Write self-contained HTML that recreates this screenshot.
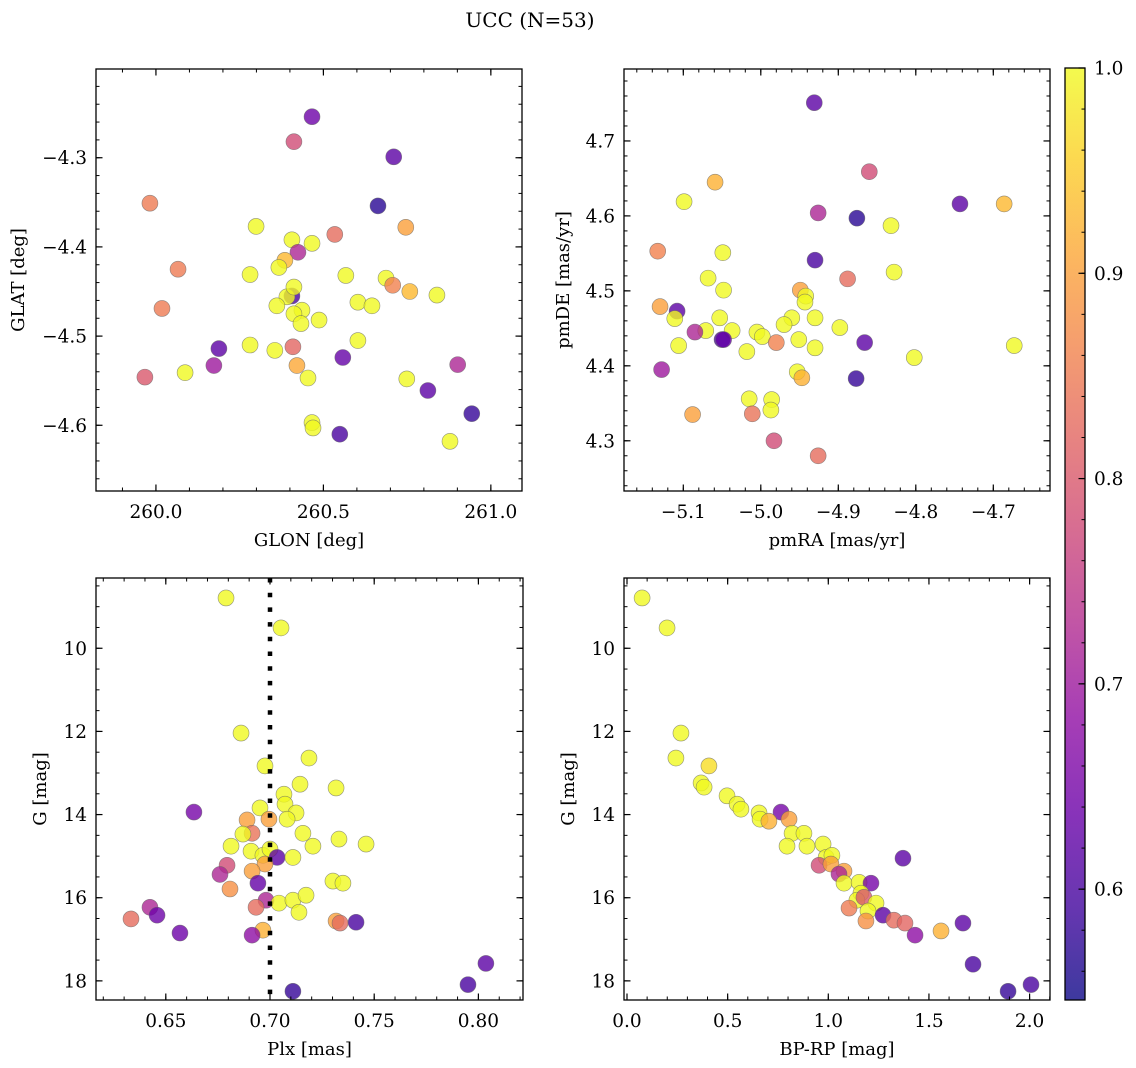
<!DOCTYPE html>
<html><head><meta charset="utf-8">
<style>
html,body{margin:0;padding:0;background:#fff;}
svg{display:block;font-family:"DejaVu Serif","Liberation Serif",serif;}
</style></head>
<body>
<svg id="fig" width="1136" height="1068" viewBox="0 0 1136 1068">
<text x="530" y="27" font-size="20" text-anchor="middle">UCC (N=53)</text>
</svg>
<script>
// ---- Panel 1: GLON / GLAT ----
const glon = [260.466,260.412,260.710,259.982,260.663,260.299,260.746,260.534,260.406,260.466,260.424,260.385,260.066,260.281,260.367,260.567,260.687,260.707,260.406,260.391,260.412,260.758,260.839,260.361,260.018,260.436,260.412,260.603,260.645,260.487,260.433,260.281,260.355,260.603,260.188,260.409,260.558,260.173,260.087,260.421,259.967,260.454,260.749,260.901,260.812,260.943,260.466,260.469,260.549,260.878];
const glat = [-4.254,-4.282,-4.299,-4.351,-4.354,-4.377,-4.378,-4.386,-4.392,-4.396,-4.406,-4.415,-4.425,-4.431,-4.423,-4.432,-4.435,-4.443,-4.455,-4.456,-4.445,-4.450,-4.454,-4.466,-4.469,-4.471,-4.475,-4.462,-4.466,-4.482,-4.486,-4.510,-4.516,-4.505,-4.514,-4.512,-4.524,-4.533,-4.541,-4.533,-4.546,-4.547,-4.548,-4.532,-4.561,-4.587,-4.597,-4.603,-4.610,-4.618];
const prob1 = [0.64,0.78,0.62,0.85,0.57,1,0.9,0.83,1,1,0.72,0.93,0.85,1,1,1,1,0.86,0.6,1,1,0.93,1,1,0.85,1,1,1,1,1,1,1,1,1,0.62,0.82,0.63,0.7,1,0.91,0.8,1,1,0.72,0.62,0.58,1,1,0.6,1];
// ---- Panel 2: pmRA / pmDE ----
const pmra = [-4.931,-4.860,-5.059,-5.099,-4.686,-4.743,-4.876,-4.926,-4.832,-5.133,-5.049,-4.930,-4.828,-5.068,-4.888,-4.949,-5.048,-4.942,-4.943,-5.130,-5.108,-5.111,-5.053,-4.960,-4.930,-5.071,-5.037,-5.005,-4.970,-4.898,-5.050,-5.048,-5.085,-4.998,-4.951,-4.980,-5.018,-4.866,-4.930,-5.106,-4.802,-4.673,-5.128,-4.953,-4.947,-4.877,-5.015,-4.986,-4.987,-5.011,-5.088,-4.983,-4.926];
const pmde = [4.751,4.659,4.645,4.619,4.616,4.616,4.597,4.604,4.587,4.553,4.551,4.541,4.525,4.517,4.516,4.501,4.501,4.493,4.485,4.479,4.473,4.463,4.464,4.464,4.464,4.447,4.447,4.445,4.455,4.451,4.435,4.435,4.445,4.439,4.435,4.431,4.419,4.431,4.424,4.427,4.411,4.427,4.395,4.392,4.384,4.383,4.356,4.355,4.341,4.336,4.335,4.300,4.280];
const prob2 = [0.62,0.78,0.92,1,0.93,0.62,0.57,0.72,1,0.86,1,0.6,1,1,0.83,0.9,1,1,1,0.9,0.62,1,1,1,1,1,1,1,1,1,0.6,0.63,0.72,1,1,0.86,1,0.62,1,1,1,1,0.7,1,0.92,0.58,1,1,1,0.84,0.9,0.78,0.83];
// ---- Panel 3: Plx / G ----
const plx = [0.6789,0.7053,0.6861,0.7187,0.6976,0.7144,0.7317,0.7067,0.7072,0.6635,0.6952,0.7125,0.7082,0.6890,0.6995,0.6914,0.6870,0.7158,0.7331,0.7206,0.7461,0.6813,0.6909,0.6966,0.7000,0.7034,0.7110,0.6794,0.6760,0.6976,0.6914,0.6942,0.6808,0.7302,0.7350,0.6981,0.6933,0.7043,0.7110,0.7173,0.7139,0.7317,0.7336,0.7413,0.6568,0.6966,0.6914,0.6333,0.6424,0.6458,0.7110,0.7950,0.8036];
const gmag3 = [8.79,9.51,12.04,12.64,12.83,13.27,13.36,13.51,13.75,13.94,13.84,13.96,14.11,14.13,14.11,14.45,14.47,14.45,14.59,14.76,14.71,14.76,14.88,14.98,14.83,15.03,15.03,15.22,15.44,15.19,15.36,15.65,15.79,15.60,15.65,16.06,16.23,16.13,16.06,15.94,16.35,16.56,16.61,16.59,16.85,16.78,16.90,16.51,16.23,16.42,18.25,18.09,17.58];
const prob3 = [1,1,1,1,1,1,1,1,1,0.65,1,1,1,0.9,0.9,0.84,1,1,1,1,1,1,1,1,1,0.62,1,0.78,0.72,0.9,0.9,0.63,0.88,1,1,0.72,0.83,1,1,1,1,0.9,0.83,0.6,0.64,0.92,0.68,0.83,0.72,0.64,0.58,0.6,0.62];
const plxRef = [0.70];
// ---- Panel 4: BP-RP / G ----
const bprp = [0.075,0.199,0.268,0.243,0.407,0.368,0.383,0.497,0.547,0.566,0.765,0.656,0.661,0.705,0.805,0.820,0.879,0.894,0.795,0.974,0.989,1.018,0.954,1.013,1.078,1.053,1.078,1.153,1.212,1.371,1.162,1.142,1.177,1.237,1.103,1.197,1.187,1.272,1.326,1.381,1.431,1.560,1.669,1.719,1.893,2.007];
const gmag4 = [8.79,9.51,12.04,12.64,12.83,13.24,13.34,13.55,13.75,13.87,13.94,13.96,14.11,14.16,14.11,14.45,14.45,14.76,14.76,14.71,15.03,14.98,15.22,15.19,15.36,15.43,15.65,15.63,15.65,15.05,15.89,16.06,15.99,16.13,16.25,16.32,16.56,16.42,16.54,16.61,16.90,16.80,16.61,17.60,18.25,18.09];
const prob4 = [1,1,1,1,0.97,1,1,1,1,1,0.65,1,1,0.92,0.9,1,1,1,1,1,1,1,0.78,0.9,0.9,0.72,1,1,0.65,0.62,1,1,0.8,1,0.85,1,0.88,0.62,0.83,0.82,0.68,0.92,0.62,0.6,0.58,0.6];
// ---- tick labels ----
const ticks1x = [260.0,260.5,261.0], ticks1y = [-4.3,-4.4,-4.5,-4.6];
const ticks2x = [-5.1,-5.0,-4.9,-4.8,-4.7], ticks2y = [4.3,4.4,4.5,4.6,4.7];
const ticks3x = [0.65,0.70,0.75,0.80], ticksG = [10,12,14,16,18];
const ticks4x = [0.0,0.5,1.0,1.5,2.0];
const cbarTicks = [0.6,0.7,0.8,0.9,1.0];
const cmin = 0.546, cmax = 1.0;

const NS = "http://www.w3.org/2000/svg";
const svg = document.getElementById('fig');
function mk(tag, attrs, parent){const e=document.createElementNS(NS,tag);for(const k in attrs)e.setAttribute(k,attrs[k]);(parent||svg).appendChild(e);return e;}
const plasma = ["#0d0887","#41049d","#6a00a8","#8f0da4","#b12a90","#cc4778","#e16462","#f2844b","#fca636","#fcce25","#f0f921"];
function hex(h){return [parseInt(h.slice(1,3),16),parseInt(h.slice(3,5),16),parseInt(h.slice(5,7),16)];}
function cmap(v){let t=(v-cmin)/(cmax-cmin);t=Math.max(0,Math.min(1,t));const f=t*10,i=Math.min(9,Math.floor(f)),r=f-i;const a=hex(plasma[i]),b=hex(plasma[i+1]);return 'rgb('+a.map((c,k)=>Math.round(c+(b[k]-c)*r)).join(',')+')';}
function fmt(v,d){const s=Math.abs(v).toFixed(d);return (v<0?'\u2212':'')+s;}
const TF = 18.5, LF = 18;

function panel(cfg){
  const {L,T,R,B,x0,x1,y0,y1,name}=cfg;
  const sx=v=>L+(v-x0)/(x1-x0)*(R-L);
  const sy=v=>T+(v-y0)/(y1-y0)*(B-T);
  const g=mk('g',{});
  
  
  const pg=mk('g',{},g);
  
  
  cfg.xs.forEach((xv,i)=>{
    const c=mk('circle',{cx:sx(xv),cy:sy(cfg.ys[i]),r:8,fill:cmap(cfg.ps[i]),'fill-opacity':0.8,stroke:'#666','stroke-opacity':0.7,'stroke-width':0.6},pg);
    
    
  });
  if(cfg.vline){cfg.vline.forEach(v=>{
    const l=mk('line',{x1:sx(v),x2:sx(v),y1:T,y2:B,stroke:'#000','stroke-width':4.5,'stroke-dasharray':'4.5 10.2'},g);
    
    
  });}
  const fr=mk('rect',{x:L,y:T,width:R-L,height:B-T,fill:'none',stroke:'#000','stroke-width':1.3},g);
  
  
  const lo=Math.min(x0,x1),hi=Math.max(x0,x1);
  for(let k=Math.ceil(lo/cfg.xminor-1e-6);k*cfg.xminor<=hi+1e-9;k++){const X=sx(k*cfg.xminor);
    mk('line',{x1:X,x2:X,y1:B,y2:B-3.5,stroke:'#000','stroke-width':1},g);mk('line',{x1:X,x2:X,y1:T,y2:T+3.5,stroke:'#000','stroke-width':1},g);}
  const ylo=Math.min(y0,y1),yhi=Math.max(y0,y1);
  for(let k=Math.ceil(ylo/cfg.yminor-1e-6);k*cfg.yminor<=yhi+1e-9;k++){const Y=sy(k*cfg.yminor);
    mk('line',{x1:L,x2:L+3.5,y1:Y,y2:Y,stroke:'#000','stroke-width':1},g);mk('line',{x1:R,x2:R-3.5,y1:Y,y2:Y,stroke:'#000','stroke-width':1},g);}
  cfg.xt.forEach(v=>{const X=sx(v);
    mk('line',{x1:X,x2:X,y1:B,y2:B-6.5,stroke:'#000','stroke-width':1.2},g);mk('line',{x1:X,x2:X,y1:T,y2:T+6.5,stroke:'#000','stroke-width':1.2},g);
    const t=mk('text',{x:X,y:B+27,'font-size':TF,'text-anchor':'middle'},g);t.textContent=fmt(v,cfg.xd);
    
    });
  cfg.yt.forEach(v=>{const Y=sy(v);
    mk('line',{x1:L,x2:L+6.5,y1:Y,y2:Y,stroke:'#000','stroke-width':1.2},g);mk('line',{x1:R,x2:R-6.5,y1:Y,y2:Y,stroke:'#000','stroke-width':1.2},g);
    const t=mk('text',{x:L-9,y:Y+6.5,'font-size':TF,'text-anchor':'end'},g);t.textContent=fmt(v,cfg.yd);
    
    });
  const xl=mk('text',{x:(L+R)/2,y:B+55,'font-size':LF,'text-anchor':'middle'},g);xl.textContent=cfg.xlabel;
  
  
  const yl=mk('text',{x:0,y:0,'font-size':LF,'text-anchor':'middle',transform:'translate('+cfg.ylx+','+((T+B)/2)+') rotate(-90)'},g);yl.textContent=cfg.ylabel;
  
  
}

panel({name:'glon-glat-panel',L:96,T:69,R:522,B:491,x0:259.821,x1:261.093,y0:-4.2005,y1:-4.6737,xs:glon,ys:glat,ps:prob1,xt:ticks1x,yt:ticks1y,xd:1,yd:1,xminor:0.1,yminor:0.02,xlabel:'GLON [deg]',ylabel:'GLAT [deg]',ylx:24});
panel({name:'pm-panel',L:624,T:69,R:1050,B:491,x0:-5.1+(624-683.3)/775,x1:-5.1+(1050-683.3)/775,y0:4.796,y1:4.233,xs:pmra,ys:pmde,ps:prob2,xt:ticks2x,yt:ticks2y,xd:1,yd:1,xminor:0.02,yminor:0.02,xlabel:'pmRA [mas/yr]',ylabel:'pmDE [mas/yr]',ylx:569});
panel({name:'plx-g-panel',L:96,T:578,R:523,B:1000,x0:0.70+(96-270)/2084,x1:0.70+(523-270)/2084,y0:8.31,y1:18.46,xs:plx,ys:gmag3,ps:prob3,xt:ticks3x,yt:ticksG,xd:2,yd:0,xminor:0.01,yminor:0.5,xlabel:'Plx [mas]',ylabel:'G [mag]',ylx:46,vline:plxRef});
panel({name:'cmd-panel',L:624,T:578,R:1050,B:1000,x0:(624-627)/201.3,x1:(1050-627)/201.3,y0:8.31,y1:18.46,xs:bprp,ys:gmag4,ps:prob4,xt:ticks4x,yt:ticksG,xd:1,yd:0,xminor:0.1,yminor:0.5,xlabel:'BP-RP [mag]',ylabel:'G [mag]',ylx:574});

(function(){
  const L=1065,R=1085,T=68,B=1000;
  const cy=v=>B-(v-cmin)/(cmax-cmin)*(B-T);
  const cb=mk('g',{});
  
  
  const defs=mk('defs',{},cb);
  const lg=mk('linearGradient',{id:'cbg',x1:0,y1:1,x2:0,y2:0},defs);
  plasma.forEach((c,i)=>mk('stop',{offset:(i/10),'stop-color':c},lg));
  mk('rect',{x:L,y:T,width:R-L,height:B-T,fill:'url(#cbg)','fill-opacity':0.8},cb);
  mk('rect',{x:L,y:T,width:R-L,height:B-T,fill:'none',stroke:'#000','stroke-width':1.3},cb);
  for(let k=Math.ceil(cmin/0.02);k*0.02<=cmax+1e-9;k++){const Y=cy(k*0.02);mk('line',{x1:R,x2:R-3.5,y1:Y,y2:Y,stroke:'#000','stroke-width':1},cb);}
  cbarTicks.forEach(v=>{const Y=cy(v);mk('line',{x1:R,x2:R-6.5,y1:Y,y2:Y,stroke:'#000','stroke-width':1.2},cb);
    const t=mk('text',{x:R+9,y:Y+6.5,'font-size':TF},cb);t.textContent=v.toFixed(1);
    
    });
})();
</script>
</body></html>
